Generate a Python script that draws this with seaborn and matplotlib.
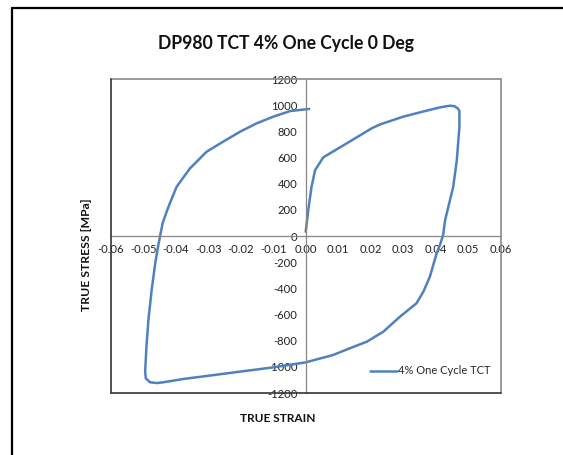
import numpy as np
import pandas as pd
import matplotlib
matplotlib.use("Agg")
import matplotlib.pyplot as plt
import seaborn as sns
from matplotlib.lines import Line2D
from matplotlib.ticker import FuncFormatter

# ---- data ----
strain = [0.0000, 0.0008, 0.0018, 0.0029, 0.0054, 0.0106, 0.0157, 0.0203, 0.0229, 0.0300,
          0.0372, 0.0413, 0.0444, 0.0458, 0.0468, 0.0473, 0.0473, 0.0465, 0.0454,
          0.0444, 0.0429, 0.0423, 0.0413, 0.0403, 0.0382, 0.0362, 0.0341, 0.0290,
          0.0239, 0.0188, 0.0136, 0.0085, 0.0034, 0.0000, -0.0100, -0.0203,
          -0.0305, -0.0377, -0.0438, -0.0458, -0.0479, -0.0492, -0.0494, -0.0490,
          -0.0484, -0.0474, -0.0463, -0.0455, -0.0448, -0.0440, -0.0428, -0.0418, -0.0397,
          -0.0356, -0.0305, -0.0254, -0.0202, -0.0151, -0.0100, -0.0048, 0.0011]
stress = [33, 200, 377, 504, 601, 678, 754, 823, 853, 912,
          958, 983, 996, 992, 975, 955, 835, 581, 377,
          275, 122, 8, -69, -132, -311, -426, -514, -617,
          -731, -808, -858, -909, -943, -966, -1004, -1037,
          -1070, -1093, -1118, -1124, -1118, -1088, -1037, -846,
          -642, -413, -209, -90, 0, 100, 185, 250, 377,
          517, 644, 721, 797, 861, 912, 955, 971]
series_name = "4% One Cycle TCT"
title = "DP980 TCT 4% One Cycle 0 Deg"
x_label = "TRUE STRAIN"
y_label = "TRUE STRESS [MPa]"
x_ticks = [-0.06, -0.05, -0.04, -0.03, -0.02, -0.01, 0.0, 0.01, 0.02, 0.03, 0.04, 0.05, 0.06]
y_ticks = [-1200, -1000, -800, -600, -400, -200, 0, 200, 400, 600, 800, 1000, 1200]

df = pd.DataFrame({"strain": strain, "stress": stress, "series": series_name})

sns.set_style("white")
plt.rcParams["font.family"] = ["Lato", "DejaVu Sans"]
plt.rcParams["axes.unicode_minus"] = False

W, H = 563, 455
fig = plt.figure(figsize=(W / 100, H / 100), dpi=100)
ax = fig.add_axes([110.7 / W, 1 - 393 / H, 390 / W, 314 / H])

sns.lineplot(data=df, x="strain", y="stress", hue="series", sort=False,
             estimator=None, palette=["#4F81BD"], linewidth=1.8, ax=ax)

ax.set_xlim(-0.06, 0.06)
ax.set_ylim(-1200, 1200)
ax.set_xticks(x_ticks)
ax.set_yticks(y_ticks)
ax.xaxis.set_major_formatter(FuncFormatter(lambda v, p: f"{v:.2f}"))
ax.yaxis.set_major_formatter(FuncFormatter(lambda v, p: f"{int(round(v))}"))

# axes crossing at origin
for s in ("top", "right"):
    ax.spines[s].set_visible(False)
ax.spines["left"].set_position(("data", 0))
ax.spines["bottom"].set_position(("data", 0))
for s in ("left", "bottom"):
    ax.spines[s].set_color("#868686")
    ax.spines[s].set_linewidth(0.9)
ax.tick_params(axis="both", which="major", direction="out", length=4, width=0.9,
               color="#868686", labelsize=8.1, labelcolor="#222222", pad=2)
for lab in ax.get_xticklabels() + ax.get_yticklabels():
    lab.set_clip_on(False)

# plot-area box
box_kw = dict(transform=ax.transAxes, clip_on=False, zorder=5)
ax.add_line(Line2D([0, 1], [1, 1], color="#8a8a8a", lw=1.2, **box_kw))
ax.add_line(Line2D([1, 1], [0, 1], color="#8a8a8a", lw=1.2, **box_kw))
ax.add_line(Line2D([0, 0], [0, 1], color="#333333", lw=1.2, **box_kw))
ax.add_line(Line2D([0, 1], [0, 0], color="#333333", lw=1.2, **box_kw))

ax.set_xlabel("")
ax.set_ylabel("")

fig.text(286 / W, 1 - 44 / H, title, ha="center", va="center",
         fontsize=12.7, fontweight="bold", color="#111111")
fig.text(278 / W, 1 - 419 / H, x_label, ha="center", va="center",
         fontsize=8.6, fontweight="bold", color="#111111")
fig.text(86.5 / W, 1 - 255 / H, y_label, ha="center", va="center", rotation=90,
         fontsize=8.8, fontweight="bold", color="#111111")

# legend
leg = ax.legend(loc="center left", bbox_to_anchor=(370 / W, 1 - 371 / H),
                bbox_transform=fig.transFigure, frameon=False, fontsize=8,
                handlelength=2.4, handletextpad=0.1, borderpad=0, borderaxespad=0)

# outer chart frame (only left and top edges are visible)
fig.add_artist(Line2D([11.5 / W, 11.5 / W], [0, 1 - 7.5 / H], color="black", lw=1.6,
                      transform=fig.transFigure))
fig.add_artist(Line2D([11.5 / W, 1], [1 - 7.5 / H, 1 - 7.5 / H], color="black", lw=1.6,
                      transform=fig.transFigure))

fig.savefig("out.png", dpi=100)
